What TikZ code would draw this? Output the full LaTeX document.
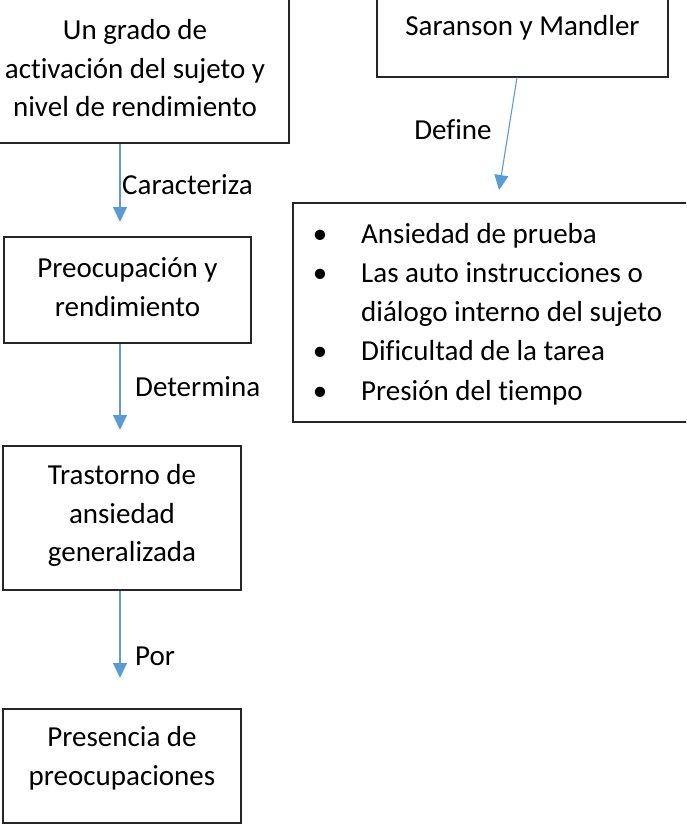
\documentclass[tikz,border=0pt]{standalone}
\usepackage{fontspec}
\setmainfont{Carlito}[Ligatures={NoCommon,NoRare,NoContextual}]
\usetikzlibrary{arrows.meta,calc}
\definecolor{arrowblue}{HTML}{5B9BD5}
\begin{document}
\begin{tikzpicture}[x=1pt,y=-1pt,
  box/.style={draw=black!85,line width=1.2pt,inner sep=0pt},
  lbl/.style={font=\fontsize{29}{38.5}\selectfont,inner sep=0pt,align=center},
  conn/.style={draw=arrowblue,line width=1.1pt,-{Triangle[width=14pt,length=15pt]}}]
\clip (0,0) rectangle (686,825);
\useasboundingbox (0,0) rectangle (686,825);
% boxes
\node[box,minimum width=308pt,minimum height=149pt] (b1) at (135,68.5) {};
\node[lbl] (b1t) at (135,68.5) {Un grado de\\activación del sujeto y\\nivel de rendimiento};
\node[box,minimum width=247pt,minimum height=106pt] (b2) at (127.5,290) {};
\node[lbl] (b2t) at (127.5,287) {Preocupación y\\rendimiento};
\node[box,minimum width=238pt,minimum height=144pt] (b3) at (122,518) {};
\node[lbl] (b3t) at (122,515.5) {Trastorno de\\ansiedad\\generalizada};
\node[box,minimum width=238pt,minimum height=114pt] (b4) at (122,766) {};
\node[lbl] (b4t) at (122,758.5) {Presencia de\\preocupaciones};
\node[box,minimum width=291pt,minimum height=114pt] (sar) at (522.5,20) {};
\node[lbl] (sart) at (522.5,28) {Saranson y Mandler};
\node[box,minimum width=410pt,minimum height=219pt] (lst) at (498,312.5) {};
\node[lbl,align=left,anchor=west,font=\fontsize{29}{39.2}\selectfont] (lstt) at (313,314)
  {\makebox[14pt]{\textbullet}\hspace*{34pt}Ansiedad de prueba\\
   \makebox[14pt]{\textbullet}\hspace*{34pt}Las auto instrucciones o\\
   \hspace*{48pt}diálogo interno del sujeto\\
   \makebox[14pt]{\textbullet}\hspace*{34pt}Dificultad de la tarea\\
   \makebox[14pt]{\textbullet}\hspace*{34pt}Presión del tiempo};
% arrow tips
\coordinate (t1) at (120,222);
\coordinate (t2) at (120,430);
\coordinate (t3) at (120,678);
\coordinate (t4) at (499,190);
\draw[conn] (b1.south -| t1) -- (t1);
\draw[conn] (b2.south -| t2) -- (t2);
\draw[conn] (b3.south -| t3) -- (t3);
\draw[conn] ($(sar.south)+(-5.5,0)$) -- (t4);
% labels
\node[lbl,anchor=west] (l1) at (122,185) {Caracteriza};
\node[lbl,anchor=west] (l2) at (135,387) {Determina};
\node[lbl,anchor=west] (l3) at (135,656) {Por};
\node[lbl] (l4) at (453,130) {Define};
\end{tikzpicture}
\end{document}
